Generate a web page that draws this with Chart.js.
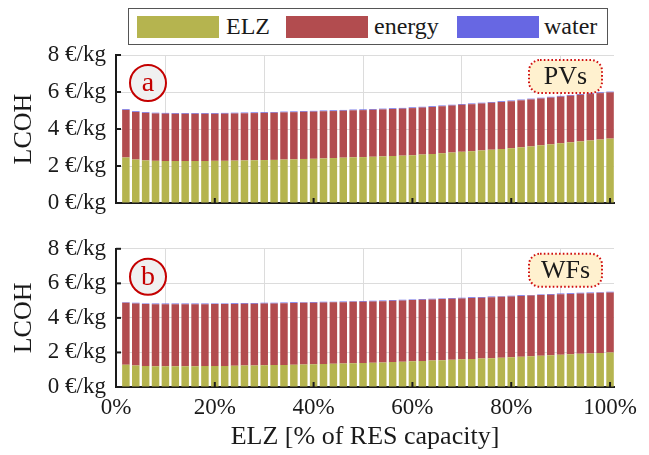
<!DOCTYPE html>
<html>
<head>
<meta charset="utf-8">
<script src="https://cdn.jsdelivr.net/npm/chart.js@4.4.1/dist/chart.umd.min.js"></script>
<style>
  body { margin: 0; background: #fff; }
  #wrap { position: relative; width: 649px; height: 455px; overflow: hidden; }
  canvas { position: absolute; left: 0; }
  #chartA { top: 0; }
  #chartB { top: 225px; }
  #legend {
    position: absolute; left: 128px; top: 8px; width: 478px; height: 35px;
    border: 1px solid #555; background: #fff; z-index: 5;
    font-family: "Liberation Serif", "Times New Roman", serif; font-size: 24px; color: #1a1a1a;
  }
  #legend .sw { position: absolute; top: 7px; width: 82px; height: 22px; }
  #legend .tx { position: absolute; top: 2px; line-height: 30px; }
</style>
</head>
<body>
<div id="wrap">
  <div id="legend">
    <div class="sw" style="left:8px;background:#b5b44f"></div><span class="tx" style="left:97px">ELZ</span>
    <div class="sw" style="left:157px;background:#b24c4f"></div><span class="tx" style="left:245px">energy</span>
    <div class="sw" style="left:328px;background:#6767e3"></div><span class="tx" style="left:415px">water</span>
  </div>
  <canvas id="chartA" width="649" height="230"></canvas>
  <canvas id="chartB" width="649" height="230"></canvas>
</div>
<script>
// ELZ size as % of RES capacity
var elzShare = [2,4,6,8,10,12,14,16,18,20,22,24,26,28,30,32,34,36,38,40,42,44,46,48,50,
                52,54,56,58,60,62,64,66,68,70,72,74,76,78,80,82,84,86,88,90,92,94,96,98,100];

// (a) PVs  [€/kg]
var elzPV = [2.46,2.35,2.30,2.28,2.27,2.27,2.27,2.27,2.27,2.28,2.28,2.29,2.30,2.31,2.32,2.33,2.35,2.36,2.38,2.39,2.41,2.43,2.45,2.47,2.48,
             2.50,2.52,2.54,2.56,2.58,2.62,2.65,2.69,2.73,2.77,2.80,2.84,2.88,2.92,2.96,3.01,3.06,3.12,3.17,3.23,3.28,3.33,3.38,3.43,3.48];
var energyPV = [2.57,2.57,2.57,2.56,2.56,2.55,2.55,2.55,2.55,2.54,2.55,2.55,2.55,2.55,2.55,2.55,2.55,2.55,2.55,2.55,2.55,2.54,2.54,2.54,2.54,
                2.54,2.54,2.54,2.54,2.55,2.54,2.54,2.54,2.54,2.54,2.54,2.54,2.54,2.54,2.54,2.54,2.54,2.53,2.53,2.52,2.52,2.52,2.51,2.51,2.50];
var waterPV = [0.04,0.04,0.04,0.04,0.04,0.04,0.04,0.04,0.04,0.04,0.04,0.04,0.04,0.04,0.04,0.04,0.04,0.04,0.04,0.04,0.04,0.04,0.04,0.04,0.04,
               0.04,0.04,0.04,0.04,0.04,0.04,0.04,0.04,0.04,0.04,0.04,0.04,0.04,0.04,0.04,0.04,0.04,0.04,0.04,0.04,0.04,0.04,0.04,0.04,0.04];

// (b) WFs  [€/kg]
var elzWF = [1.29,1.24,1.21,1.20,1.20,1.20,1.20,1.20,1.21,1.21,1.22,1.23,1.24,1.25,1.26,1.27,1.28,1.29,1.30,1.31,1.33,1.34,1.36,1.37,1.39,
             1.40,1.42,1.44,1.46,1.49,1.51,1.53,1.55,1.58,1.60,1.62,1.65,1.67,1.70,1.72,1.75,1.78,1.81,1.84,1.87,1.89,1.92,1.94,1.97,1.99];
var energyWF = [3.58,3.59,3.59,3.59,3.59,3.59,3.59,3.59,3.58,3.59,3.58,3.58,3.58,3.57,3.57,3.57,3.57,3.57,3.57,3.57,3.56,3.56,3.55,3.56,3.55,
                3.55,3.55,3.55,3.55,3.54,3.54,3.54,3.54,3.53,3.53,3.53,3.52,3.53,3.52,3.52,3.52,3.51,3.51,3.50,3.50,3.50,3.49,3.49,3.48,3.48];
var waterWF = [0.04,0.04,0.04,0.04,0.04,0.04,0.04,0.04,0.04,0.04,0.04,0.04,0.04,0.04,0.04,0.04,0.04,0.04,0.04,0.04,0.04,0.04,0.04,0.04,0.04,
               0.04,0.04,0.04,0.04,0.04,0.04,0.04,0.04,0.04,0.04,0.04,0.04,0.04,0.04,0.04,0.04,0.04,0.04,0.04,0.04,0.04,0.04,0.04,0.04,0.04];

var xTicks = [0,20,40,60,80,100];
var yTicks = [0,2,4,6,8];

var serif = '"Liberation Serif", "Times New Roman", serif';
var ink = '#1a1a1a';

function pts(vals) {
  return elzShare.map(function (x, i) { return {x: x, y: vals[i]}; });
}

// circle label + dotted tag box, and inward tick marks
var decor = {
  id: 'decor',
  afterDatasetsDraw: function (chart, args, o) {
    var ctx = chart.ctx, a = chart.chartArea;
    var xs = chart.scales.x, ys = chart.scales.y;
    ctx.save();
    ctx.strokeStyle = '#1a1a1a';
    ctx.lineWidth = 2;
    xTicks.forEach(function (t) {
      var px = xs.getPixelForValue(t);
      ctx.beginPath(); ctx.moveTo(px, a.bottom); ctx.lineTo(px, a.bottom - 5); ctx.stroke();
    });
    yTicks.forEach(function (t) {
      var py = ys.getPixelForValue(t);
      ctx.beginPath(); ctx.moveTo(a.left, py); ctx.lineTo(a.left + 5, py); ctx.stroke();
    });

    // panel letter
    var cx = a.left + 32, cy = a.top + 28;
    ctx.beginPath();
    ctx.arc(cx, cy, 18, 0, Math.PI * 2);
    ctx.fillStyle = '#f0f0f0';
    ctx.fill();
    ctx.strokeStyle = '#c40000';
    ctx.lineWidth = 2;
    ctx.stroke();
    ctx.fillStyle = '#c40000';
    ctx.font = '28px ' + serif;
    ctx.textAlign = 'center';
    ctx.textBaseline = 'middle';
    ctx.fillText(o.letter, cx, cy + 1);

    // tag box
    var bx = a.right - 85, by = a.top + 5, bw = 73, bh = 33, r = 11;
    ctx.beginPath();
    ctx.roundRect(bx, by, bw, bh, r);
    ctx.fillStyle = '#fff1cf';
    ctx.fill();
    ctx.setLineDash([1.6, 2.2]);
    ctx.strokeStyle = '#d01010';
    ctx.lineWidth = 2;
    ctx.stroke();
    ctx.setLineDash([]);
    ctx.fillStyle = ink;
    ctx.font = '26px ' + serif;
    ctx.fillText(o.tag, bx + bw / 2, by + bh / 2 + 1);
    ctx.restore();
  }
};

function makePanel(id, elz, energy, water, letter, tag, showX) {
  var ctx = document.getElementById(id).getContext('2d');
  return new Chart(ctx, {
    type: 'bar',
    data: {
      datasets: [
        {label: 'ELZ', data: pts(elz), backgroundColor: '#b5b44f'},
        {label: 'energy', data: pts(energy), backgroundColor: '#b24c4f'},
        {label: 'water', data: pts(water), backgroundColor: '#6767e3'}
      ]
    },
    options: {
      responsive: false,
      animation: false,
      devicePixelRatio: 1,
      categoryPercentage: 1,
      barPercentage: 0.76,
      layout: {padding: showX ? {top: 14, right: 35, bottom: 0, left: 0} : {top: 55, right: 35, bottom: 27, left: 0}},
      plugins: {legend: {display: false}, tooltip: {enabled: false}, decor: {letter: letter, tag: tag}},
      scales: {
        x: {
          type: 'linear', stacked: true, offset: false,
          min: 0, max: 100.8,
          afterBuildTicks: function (s) { s.ticks = xTicks.map(function (v) { return {value: v}; }); },
          afterFit: function (s) { s.height = showX ? 68 : 0; },
          grid: {color: '#dcdcdc', lineWidth: 1, drawTicks: false},
          border: {display: true, color: '#1a1a1a', width: 2},
          ticks: {
            display: showX, padding: 7, color: ink, maxRotation: 0,
            font: {family: serif, size: 23},
            callback: function (v) { return v + '%'; }
          },
          title: {display: showX, text: 'ELZ [% of RES capacity]', color: ink,
                  font: {family: serif, size: 26}, padding: {top: 0, bottom: 2}}
        },
        y: {
          stacked: true, min: 0, max: 8,
          afterBuildTicks: function (s) { s.ticks = yTicks.map(function (v) { return {value: v}; }); },
          afterFit: function (s) { s.width = 116; },
          grid: {color: '#dcdcdc', lineWidth: 1, drawTicks: false},
          border: {display: true, color: '#1a1a1a', width: 2},
          ticks: {
            padding: 10, color: ink,
            font: {family: serif, size: 23},
            callback: function (v) { return v + ' €/kg'; }
          },
          title: {display: true, text: 'LCOH', color: ink,
                  font: {family: serif, size: 26}, padding: {top: 9, bottom: 0}}
        }
      }
    },
    plugins: [decor]
  });
}

makePanel('chartA', elzPV, energyPV, waterPV, 'a', 'PVs', false);
makePanel('chartB', elzWF, energyWF, waterWF, 'b', 'WFs', true);
</script>
</body>
</html>
